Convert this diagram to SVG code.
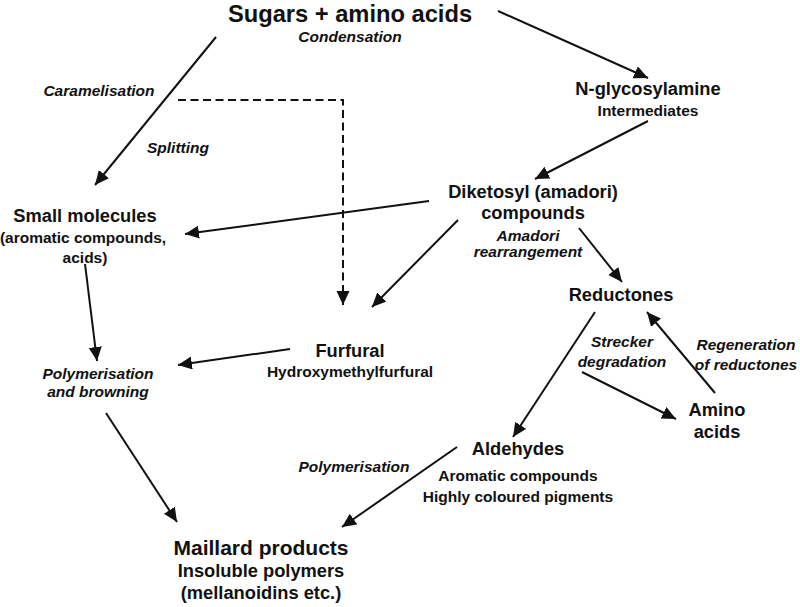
<svg xmlns="http://www.w3.org/2000/svg" width="800" height="607" viewBox="0 0 800 607">
<style>
text{font-family:"Liberation Sans",Arial,sans-serif;font-weight:bold;fill:#111;text-anchor:middle}
.t{font-size:23.7px}
.m{font-size:18.3px}
.s{font-size:15.5px}
.b{font-size:21px}
.i{font-size:15.5px;font-style:italic}
.c line,.c path{stroke:#111;stroke-width:2;fill:none}
.c .d{stroke-dasharray:8 4.5}
</style>
<defs>
<marker id="ah" markerUnits="userSpaceOnUse" markerWidth="16" markerHeight="14" refX="14" refY="6.5" orient="auto">
<path d="M0,0 L14,6.5 L0,13 z" fill="#111" stroke="none"/>
</marker>
</defs>
<g class="c" id="connectors">
<line x1="216" y1="37" x2="95" y2="185" marker-end="url(#ah)"/>
<path class="d" d="M178,100 H343 V305" marker-end="url(#ah)"/>
<line x1="498" y1="11" x2="648" y2="78" marker-end="url(#ah)"/>
<line x1="648" y1="121" x2="535" y2="179" marker-end="url(#ah)"/>
<line x1="429" y1="201" x2="185" y2="234" marker-end="url(#ah)"/>
<line x1="85" y1="264" x2="97" y2="361" marker-end="url(#ah)"/>
<line x1="458" y1="220" x2="372" y2="307" marker-end="url(#ah)"/>
<line x1="579" y1="228" x2="622" y2="282" marker-end="url(#ah)"/>
<line x1="595" y1="312" x2="513" y2="437" marker-end="url(#ah)"/>
<line x1="582" y1="372" x2="676" y2="419" marker-end="url(#ah)"/>
<line x1="715" y1="393" x2="647" y2="312" marker-end="url(#ah)"/>
<line x1="290" y1="349" x2="178" y2="365" marker-end="url(#ah)"/>
<line x1="106" y1="413" x2="177" y2="522" marker-end="url(#ah)"/>
<line x1="457" y1="447" x2="342" y2="527" marker-end="url(#ah)"/>
</g>
<g id="sugars"><text class="t" x="350" y="22">Sugars + amino acids</text></g>
<g id="condensation"><text class="i" x="350" y="42">Condensation</text></g>
<g id="caramelisation"><text class="i" x="99" y="96">Caramelisation</text></g>
<g id="splitting"><text class="i" x="178" y="153">Splitting</text></g>
<g id="nglycosylamine"><text class="m" x="648" y="95">N-glycosylamine</text><text class="s" x="648" y="116">Intermediates</text></g>
<g id="diketosyl"><text class="m" x="533" y="198">Diketosyl (amadori)</text><text class="m" x="533" y="219">compounds</text></g>
<g id="amadori"><text class="i" x="528" y="241">Amadori</text><text class="i" x="528" y="257">rearrangement</text></g>
<g id="small"><text class="m" x="85" y="222">Small molecules</text><text class="s" x="83" y="243">(aromatic compounds,</text><text class="s" x="85" y="263">acids)</text></g>
<g id="reductones"><text class="m" x="621" y="301">Reductones</text></g>
<g id="strecker"><text class="i" x="622" y="347">Strecker</text><text class="i" x="622" y="367">degradation</text></g>
<g id="regeneration"><text class="i" x="746" y="350">Regeneration</text><text class="i" x="746" y="370">of reductones</text></g>
<g id="furfural"><text class="m" x="350" y="357">Furfural</text><text class="s" x="350" y="377">Hydroxymethylfurfural</text></g>
<g id="polybrown"><text class="i" x="98" y="379">Polymerisation</text><text class="i" x="98" y="397">and browning</text></g>
<g id="aminoacids"><text class="m" x="717" y="416">Amino</text><text class="m" x="717" y="438">acids</text></g>
<g id="aldehydes"><text class="m" x="518" y="455">Aldehydes</text><text class="s" x="518" y="481">Aromatic compounds</text><text class="s" x="518" y="502">Highly coloured pigments</text></g>
<g id="polymerisation"><text class="i" x="354" y="472">Polymerisation</text></g>
<g id="maillard"><text class="b" x="261" y="555">Maillard products</text><text class="m" x="261" y="577">Insoluble polymers</text><text class="m" x="261" y="599">(mellanoidins etc.)</text></g>
</svg>
